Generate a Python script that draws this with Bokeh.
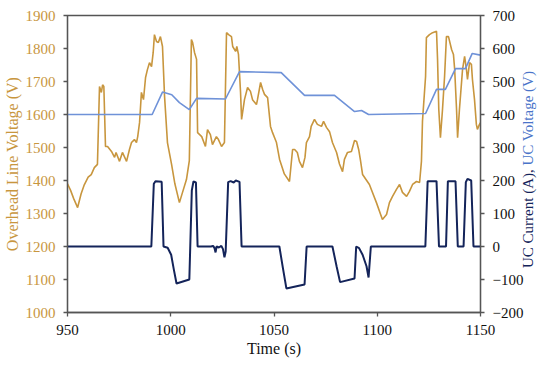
from bokeh.plotting import figure
from bokeh.models import Range1d, LinearAxis, FixedTicker, GridBox, Div
from bokeh.embed import file_html
from bokeh.resources import INLINE

# ---- data ----
ohl_t = [950, 951.5, 953, 954.9, 956.6, 958, 960, 961.5, 963, 964.5, 965.5, 966.4, 967, 967.6,
         968.4, 969.4, 971.3, 972.8, 973.5, 975.2, 976.6, 978.6, 980, 981, 982.4, 983.4, 984,
         984.9, 985.8, 986.8, 987.8, 988.7, 989.7, 990.7, 991.5, 992.1, 993.1, 994, 995, 996,
         997, 998.4, 1000.4, 1002, 1004.2, 1005.7, 1007.6, 1009, 1010, 1010.6, 1011.5, 1012.5,
         1013, 1015, 1016.8, 1017.8, 1019.2, 1020.2, 1022.1, 1023.1, 1024.6, 1026, 1027, 1028,
         1029.4, 1030, 1031.4, 1032, 1032.8, 1033.8, 1034.3, 1035.7, 1037.2, 1038.6, 1039.6,
         1041.5, 1042, 1043.5, 1044.5, 1045.4, 1046.9, 1048.3, 1049.3, 1051.2, 1052.7, 1055,
         1057.5, 1059, 1060, 1061.3, 1062.3, 1063.8, 1065, 1065.7, 1067.2, 1068, 1069.6, 1071,
         1073, 1074, 1075.4, 1076.9, 1078.3, 1080.3, 1081.7, 1083.2, 1084.1, 1085.6, 1087.5,
         1089, 1090, 1091, 1091.9, 1092.9, 1096.2, 1099.6, 1102.5, 1104.5, 1105.9, 1107.4,
         1109.3, 1110.8, 1112.2, 1114.2, 1115.6, 1117.1, 1119, 1120.5, 1121.4, 1121.9, 1123.4,
         1123.8, 1125.3, 1126.8, 1128.7, 1129.2, 1129.8, 1130.6, 1131.6, 1132.6, 1133.5, 1134.5,
         1136, 1136.9, 1137.5, 1138.4, 1138.9, 1139.8, 1141.3, 1142.3, 1143.2, 1143.7, 1144.7,
         1145.6, 1146.1, 1147.1, 1148, 1148.5, 1149.5, 1150]
ohl_v = [1390, 1370, 1345, 1318, 1360, 1385, 1410, 1418, 1439, 1449, 1685, 1667, 1690, 1685,
         1503, 1503, 1488, 1470, 1485, 1458, 1485, 1458, 1494, 1515, 1524, 1515, 1533,
         1576, 1667, 1645, 1712, 1736, 1757, 1745, 1788, 1842, 1821, 1818, 1836, 1806,
         1655, 1515, 1449, 1390, 1333, 1364, 1403, 1460, 1827, 1818, 1788, 1767,
         1545, 1533, 1503, 1554, 1539, 1509, 1533, 1524, 1503, 1515, 1848, 1842,
         1836, 1806, 1791, 1806, 1782, 1667, 1585, 1645, 1682, 1670, 1645,
         1630, 1645, 1697, 1676, 1661, 1651, 1564, 1545, 1515, 1464, 1420,
         1397, 1494, 1494, 1485, 1458, 1439, 1470, 1515, 1533, 1564, 1585, 1570,
         1564, 1579, 1561, 1548, 1515, 1485, 1450, 1427, 1464, 1485, 1488,
         1521, 1518, 1494, 1460, 1418, 1388, 1333, 1282, 1297, 1333, 1352,
         1373, 1388, 1364, 1352, 1367, 1388, 1397, 1394, 1458, 1579, 1715,
         1833, 1842, 1848, 1852, 1767, 1615, 1530, 1615, 1715, 1836, 1836,
         1797, 1782, 1736, 1615, 1530, 1615, 1736, 1776, 1736, 1706, 1757,
         1752, 1706, 1645, 1570, 1555, 1570, 1575]

cur_t = [950, 990.6, 991.8, 992.6, 995.6, 996.5, 998.5, 1000.2, 1001.5, 1002.8, 1009.0, 1010.2,
         1011.0, 1012.2, 1013.0, 1019.5, 1020.5, 1021.2, 1021.7, 1022.2, 1023.3, 1024.5, 1025.3,
         1026.0, 1026.6, 1027.8, 1029.0, 1030.5, 1031.5, 1033.3, 1034.3, 1052.6, 1054.3, 1056.0,
         1064.8, 1065.8, 1078.3, 1080.3, 1082.0, 1089.0, 1089.8, 1091.2, 1092.9, 1094.8, 1095.8,
         1096.9, 1123.3, 1124.4, 1128.7, 1129.9, 1133.3, 1134.2, 1137.9, 1139.0, 1141.8, 1142.9,
         1143.7, 1145.5, 1146.6, 1150]
cur_v = [0, 0, 190, 198, 196, 0, -4, -25, -70, -112, -100, 170,
         197, 194, 0, 0, 2, -5, -18, 0, -3, 2, -8,
         -33, -15, 195, 198, 194, 200, 196, 0, 0, -65, -127,
         -115, 0, 0, -60, -108, -97, 0, -5, -25, -60, -94,
         0, 0, 198, 198, 0, 0, 198, 198, 0, 0, 195,
         205, 200, 0, 0]

ucv_t = [950, 991, 996, 1000.5, 1004.2, 1009, 1012.5, 1026.5, 1033.3, 1053.5, 1064.8, 1079.3,
         1089, 1092.4, 1095.8, 1123.4, 1128.7, 1133, 1137.9, 1142.7, 1146, 1150]
ucv_v = [400, 400, 468, 460, 436, 415, 449, 447, 530, 527, 458, 458,
         409, 412, 400, 403, 476, 476, 539, 539, 585, 580]

x_ticks = [950, 1000, 1050, 1100, 1150]
left_ticks = [1000, 1100, 1200, 1300, 1400, 1500, 1600, 1700, 1800, 1900]
right_ticks = [-200, -100, 0, 100, 200, 300, 400, 500, 600, 700]
right_label_parts = ["UC Current (A),", "UC Voltage (V)"]

# ---- style ----
ORANGE = "#C8963E"
NAVY = "#14245A"
BLUE = "#6F92D8"
BLUE_TXT = "#4A74C9"
AX = "#555555"
FONT = "Liberation Serif"
FS = "15px"
FSL = "16px"
W, H = 534, 350

p = figure(frame_width=413, frame_height=297, x_range=Range1d(950, 1150), y_range=Range1d(1000, 1900),
           output_backend="svg", toolbar_location=None,
           min_border_left=60, min_border_right=61, min_border_top=15, min_border_bottom=38)
p.extra_y_ranges = {"uc": Range1d(-200, 700)}

p.xgrid.visible = False
p.ygrid.visible = False
p.outline_line_color = AX
p.outline_line_width = 1.3
p.background_fill_color = "white"
p.border_fill_color = "white"

right = LinearAxis(y_range_name="uc")
p.add_layout(right, "right")

p.xaxis.ticker = FixedTicker(ticks=x_ticks)
p.yaxis[0].ticker = FixedTicker(ticks=left_ticks)
right.ticker = FixedTicker(ticks=right_ticks)
right.major_label_overrides = {-200: "\u2212200", -100: "\u2212100"}

for ax in [p.xaxis[0], p.yaxis[0], right]:
    ax.axis_line_color = AX
    ax.axis_line_width = 1.3
    ax.major_tick_line_color = AX
    ax.major_tick_line_width = 1.3
    ax.major_tick_out = 4
    ax.major_tick_in = 0
    ax.minor_tick_line_color = None
    ax.major_label_standoff = 8
    ax.major_label_text_font = FONT
    ax.major_label_text_font_size = FS
    ax.major_label_text_color = "#111111"
    ax.axis_label_text_font = FONT
    ax.axis_label_text_font_size = FSL
    ax.axis_label_text_font_style = "normal"

p.yaxis[0].major_label_text_color = ORANGE
p.yaxis[0].axis_label = "Overhead Line Voltage (V)"
p.yaxis[0].axis_label_text_color = ORANGE
p.yaxis[0].axis_label_standoff = 2
p.xaxis.axis_label = "Time (s)"
p.xaxis.axis_label_text_color = "#111111"
p.xaxis.axis_label_standoff = 2

p.line(ohl_t, ohl_v, line_color=ORANGE, line_width=1.6)
p.line(cur_t, cur_v, line_color=NAVY, line_width=2, y_range_name="uc")
p.line(ucv_t, ucv_v, line_color=BLUE, line_width=1.6, y_range_name="uc")

# two-coloured right-hand axis title, as rotated HTML text laid over the plot
title_html = (
    '<div style="padding-left:515px;padding-top:263px;height:0;width:0;">'
    '<div style="transform:rotate(-90deg);transform-origin:0 0;white-space:nowrap;'
    'font-family:\'Liberation Serif\';font-size:' + FS + ';line-height:17px;width:260px;">'
    '<span style="color:' + NAVY + ';">' + right_label_parts[0] + '</span> '
    '<span style="color:' + BLUE_TXT + ';">' + right_label_parts[1] + '</span>'
    '</div></div>'
)
d = Div(text=title_html, width=W, height=H, styles={"pointer-events": "none"})

grid = GridBox(children=[(p, 0, 0), (d, 0, 0)])

open("out.html", "w").write(file_html(grid, INLINE))
